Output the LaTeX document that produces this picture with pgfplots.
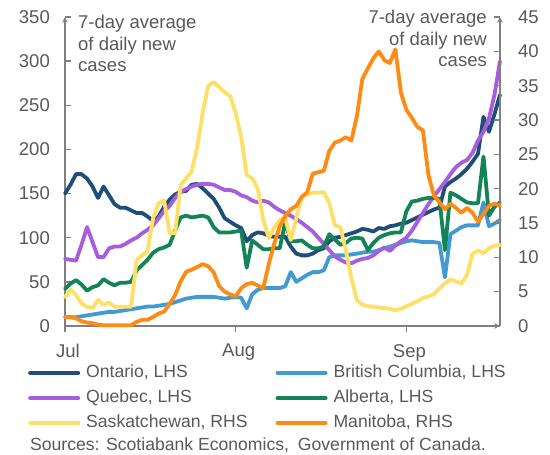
\documentclass[border=0pt]{standalone}
\usepackage{pgfplots}
\pgfplotsset{compat=1.18}
\usepackage{pgfplotstable}
\usepackage{fontspec}
\setmainfont{Liberation Sans}
\definecolor{ont}{HTML}{1F4E79}
\definecolor{bc}{HTML}{419BD2}
\definecolor{que}{HTML}{A65EDC}
\definecolor{alb}{HTML}{128456}
\definecolor{sas}{HTML}{FFE066}
\definecolor{man}{HTML}{FF8A14}
\definecolor{axisgray}{HTML}{808080}
\definecolor{txtgray}{HTML}{595959}

\pgfplotstableread{
d ont bc que alb sas man
0 150 10 76 42 4.2 1.3
1 160 10 75 48 5.3 1.3
2 172 10 74 52 4.5 1.1
3 172 11 92 47 3.3 0.7
4 167 12 112 40 2.8 0.5
5 158 13 95 44 2.6 0.4
6 145 14 78 46 3.8 0.2
7 158 15 78 53 3.1 0.1
8 148 16 88 49 3.4 0.1
9 138 16 90 46 2.8 0.1
10 134 17 90 49 2.8 0.1
11 134 18 93 49 2.8 0.1
12 131 19 97 50 2.8 0.1
13 128 20 100 63 9.6 0.6
14 128 21 105 69 10.3 0.9
15 124 22 109 75 10.9 0.9
16 119 22 114 83 15.7 1.3
17 124 23 122 87 17.9 1.8
18 135 24 130 89 18.3 2.1
19 143 25 136 92 13.5 3.2
20 149 27 145 108 13.5 4.5
21 152 29 152 123 20.5 6.5
22 153 31 155 125 21.5 7.9
23 160 32 158 123 22.5 8.2
24 161 33 160 124 26 8.6
25 156 33 161 125 31 9.0
26 150 33 161 123 35 8.7
27 144 33 160 112 35.5 7.8
28 134 32 157 106 34.8 5.8
29 122 31 154 106 34 5.0
30 118 32 154 106 33.5 4.6
31 114 33 152 107 31 4.3
32 111 32 148 108 27.5 5.5
33 96 20 146 66 22 6.1
34 103 36 142 97 21.5 6.3
35 106 41 140 92 20 5.9
36 105 43 142 87 15.5 5.5
37 102 43 140 87 12.8 9.0
38 101 43 135 88 14.3 12
39 101 43 131 88 15.5 14.5
40 101 45 128 118 15.7 16
41 90 61 125 96 12.5 17
42 82 50 121 96 15.7 17.5
43 80 54 117 97 18.8 18.8
44 80 58 112 92 19.2 19.5
45 82 61 107 88 19.4 22.2
46 86 61 100 88 19.4 22.4
47 88 63 93 90 19.5 22.6
48 96 78 86 104 17.9 25.5
49 100 80 79 98 14.7 26.7
50 101 80 75 92 14.4 27
51 103 80 72 94 11 27.5
52 105 81 71 99 7 27
53 107 82 74 100 3.8 30.5
54 110 83 76 99 3.1 36
55 109 84 77 86 2.9 37.5
56 107 84 80 94 2.8 39
57 111 86 85 100 2.7 40
58 110 88 89 103 2.6 38.7
59 113 90 85 105 2.5 38.3
60 114 92 91 106 2.3 40.3
61 116 94 96 106 2.5 34
62 117 96 100 130 2.9 31.5
63 120 97 108 141 3.2 30.3
64 123 96 118 142 3.6 29
65 126 95 128 144 4.1 28.5
66 129 95 138 145 4.3 22
67 132 95 147 145 4.6 19
68 134 94 155 144 5.5 18
69 158 55 163 86 6.2 17
70 163 104 172 151 6.8 17.8
71 167 108 180 148 6.5 17.2
72 172 112 185 144 6.2 16.5
73 178 114 188 140 7.4 17.2
74 186 114 196 139 10.5 16.5
75 195 114 210 139 11 15.2
76 237 140 220 192 10.6 16.3
77 220 113 235 125 11.3 17.5
78 240 116 262 135 11.7 17.8
79 262 120 300 140 11.8 17.5
}\datatable

\pgfplotsset{
  common/.style={
    at={(65pt,129pt)}, anchor=south west,
    scale only axis, width=435pt, height=309pt,
    xmin=0, xmax=79,
    clip=false,
    axis line style={axisgray, line width=1.5pt, -},
    tick style={axisgray, line width=1.5pt},
    major tick length=6pt,
    tick label style={font=\fontsize{18.5}{20}\selectfont, text=txtgray},
    /pgf/number format/assume math mode=true,
    every axis plot/.append style={line width=3.8pt, line join=round, line cap=round},
  }
}

\begin{document}
\begin{tikzpicture}[x=1pt,y=1pt]
\useasboundingbox (0,0) rectangle (550,455);
\begin{axis}[common,
  ymin=0, ymax=350,
  axis x line=bottom, axis y line=left,
  xtick={0,31,62}, xticklabels={Jul,Aug,Sep},
  ytick={0,50,...,350},
  xtick align=outside, ytick align=inside,
  yticklabel style={anchor=east, inner sep=0pt, xshift=-15pt},
  xticklabel style={anchor=north, inner sep=0pt, xshift=3pt, yshift=-12pt},
]
\addplot[ont] table[x=d,y=ont]{\datatable};
\addplot[bc] table[x=d,y=bc]{\datatable};
\addplot[que] table[x=d,y=que]{\datatable};
\addplot[alb] table[x=d,y=alb]{\datatable};
\end{axis}
\begin{axis}[common,
  ymin=0, ymax=45,
  axis x line=none, axis y line=right,
  ytick={0,5,...,45},
  ytick align=inside,
  yticklabel style={anchor=west, inner sep=0pt, xshift=18pt},
  legend columns=2,
  legend cell align=left,
  legend image code/.code={\draw[#1, line width=4pt, line cap=round] (2pt,0pt) -- (50pt,0pt);},
  legend style={at={(-0.0851,-0.124)}, anchor=north west, draw=none, fill=none,
    inner sep=0pt, row sep=8pt,
    font=\fontsize{17.6}{20}\selectfont, text=txtgray,
    nodes={inner sep=0pt, text height=13pt, text depth=4pt},
    /tikz/every odd column/.append style={column sep=6pt},
    /tikz/every even column/.append style={column sep=28pt}},
]
\addlegendimage{ont}\addlegendentry{Ontario, LHS}
\addlegendimage{bc}\addlegendentry{British Columbia, LHS}
\addlegendimage{que}\addlegendentry{Quebec, LHS}
\addlegendimage{alb}\addlegendentry{Alberta, LHS}
\addplot[sas] table[x=d,y=sas]{\datatable};
\addlegendentry{Saskatchewan, RHS}
\addplot[man] table[x=d,y=man]{\datatable};
\addlegendentry{Manitoba, RHS}
\end{axis}
\node[anchor=north west, align=left, inner sep=0pt, font=\fontsize{18.5}{21.5}\selectfont, text=txtgray] at (78,440) {7-day average\\of daily new\\cases};
\node[anchor=north east, align=right, inner sep=0pt, font=\fontsize{18.5}{21.5}\selectfont, text=txtgray] at (487,445) {7-day average\\of daily new\\cases};
\node[inner sep=0pt, font=\fontsize{17.6}{20}\selectfont, text=txtgray] at (258,10) {Sources: Scotiabank Economics,\hspace{4pt} Government of Canada.};
\end{tikzpicture}
\end{document}
